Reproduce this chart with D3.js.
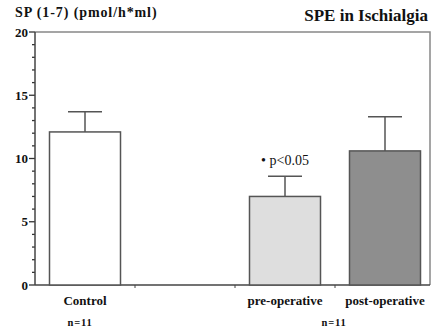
<!DOCTYPE html>
<html>
<head>
<meta charset="utf-8">
<script src="https://cdn.jsdelivr.net/npm/d3@7"></script>
<style>
  body { margin: 0; background: #fff; }
  svg { display: block; }
  text { font-family: "Liberation Serif", "DejaVu Serif", serif; fill: #111; }
</style>
</head>
<body>
<svg id="chart" width="432" height="328"></svg>
<script>
// slots on the x axis (second one is an empty gap)
const slots = ["Control", "gap", "pre-operative", "post-operative"];
const barNames = ["Control", "pre-operative", "post-operative"];
const means = [12.1, 7.0, 10.6];
const sems = [1.6, 1.6, 2.7];
const fills = ["#ffffff", "#dedede", "#8e8e8e"];
const yTicks = [0, 5, 10, 15, 20];
const groupLabels = [{ text: "n=11", x: 80 }, { text: "n=11", x: 334 }];

const svg = d3.select("#chart");

const x = d3.scaleBand()
    .domain(slots)
    .range([35, 435])
    .paddingInner(0.29)
    .paddingOuter(0.145);

const y = d3.scaleLinear()
    .domain([0, 20])
    .range([285, 32]);

// frame top + right
svg.append("path")
    .attr("d", `M35,${y(20)} H430 V${y(0)}`)
    .attr("fill", "none")
    .attr("stroke", "#888")
    .attr("stroke-width", 1.5);

// y axis with minor ticks
svg.append("g")
    .selectAll("line")
    .data(d3.range(0, 21))
    .join("line")
    .attr("x1", d => d % 5 === 0 ? 29 : 32)
    .attr("x2", 35)
    .attr("y1", d => y(d))
    .attr("y2", d => y(d))
    .attr("stroke", "#333")
    .attr("stroke-width", 1.3);

svg.append("line")
    .attr("x1", 35).attr("x2", 35)
    .attr("y1", y(20)).attr("y2", y(0))
    .attr("stroke", "#444")
    .attr("stroke-width", 1.5);

svg.append("g")
    .selectAll("text")
    .data(yTicks)
    .join("text")
    .attr("x", 28)
    .attr("y", d => y(d) + 4.5)
    .attr("text-anchor", "end")
    .attr("font-size", 13)
    .attr("font-weight", "bold")
    .text(d => d);

// x axis line + slot ticks
svg.append("line")
    .attr("x1", 35).attr("x2", 430)
    .attr("y1", y(0)).attr("y2", y(0))
    .attr("stroke", "#444")
    .attr("stroke-width", 1.5);

svg.append("g")
    .selectAll("line")
    .data(slots.slice(1))
    .join("line")
    .attr("x1", d => x(d) - x.step() * x.paddingInner() / 2)
    .attr("x2", d => x(d) - x.step() * x.paddingInner() / 2)
    .attr("y1", y(0))
    .attr("y2", y(0) + 3)
    .attr("stroke", "#444");

// bars
const bars = barNames.map((name, i) => ({ name, mean: means[i], sem: sems[i], fill: fills[i] }));

svg.append("g")
    .selectAll("rect")
    .data(bars)
    .join("rect")
    .attr("x", d => x(d.name))
    .attr("y", d => y(d.mean))
    .attr("width", x.bandwidth())
    .attr("height", d => y(0) - y(d.mean))
    .attr("fill", d => d.fill)
    .attr("stroke", "#555")
    .attr("stroke-width", 1.5);

// error bars (upper only)
const err = svg.append("g").attr("stroke", "#555").attr("stroke-width", 1.5);
err.selectAll("line.stem")
    .data(bars)
    .join("line")
    .attr("class", "stem")
    .attr("x1", d => x(d.name) + x.bandwidth() / 2)
    .attr("x2", d => x(d.name) + x.bandwidth() / 2)
    .attr("y1", d => y(d.mean))
    .attr("y2", d => y(d.mean + d.sem));
err.selectAll("line.cap")
    .data(bars)
    .join("line")
    .attr("class", "cap")
    .attr("x1", d => x(d.name) + x.bandwidth() / 2 - 17)
    .attr("x2", d => x(d.name) + x.bandwidth() / 2 + 17)
    .attr("y1", d => y(d.mean + d.sem))
    .attr("y2", d => y(d.mean + d.sem));

// significance note
svg.append("text")
    .attr("x", x("pre-operative") + x.bandwidth() / 2)
    .attr("y", y(means[1] + sems[1]) - 11)
    .attr("text-anchor", "middle")
    .attr("font-size", 14)
    .attr("fill", "#444")
    .text("• p<0.05");

// category labels
svg.append("g")
    .selectAll("text")
    .data(barNames)
    .join("text")
    .attr("x", d => x(d) + x.bandwidth() / 2)
    .attr("y", 305)
    .attr("text-anchor", "middle")
    .attr("font-size", 13)
    .attr("font-weight", "bold")
    .attr("fill", "#222")
    .text(d => d);

svg.append("g")
    .selectAll("text")
    .data(groupLabels)
    .join("text")
    .attr("x", d => d.x)
    .attr("y", 326)
    .attr("text-anchor", "middle")
    .attr("font-size", 10.5)
    .attr("font-weight", "bold")
    .attr("letter-spacing", 0.8)
    .text(d => d.text);

// titles
svg.append("text")
    .attr("x", 15)
    .attr("y", 17)
    .attr("font-size", 14)
    .attr("font-weight", "bold")
    .attr("letter-spacing", 0.9)
    .text("SP (1-7) (pmol/h*ml)");

svg.append("text")
    .attr("x", 428)
    .attr("y", 21)
    .attr("text-anchor", "end")
    .attr("font-size", 17)
    .attr("font-weight", "bold")
    .text("SPE in Ischialgia");
</script>
</body>
</html>
